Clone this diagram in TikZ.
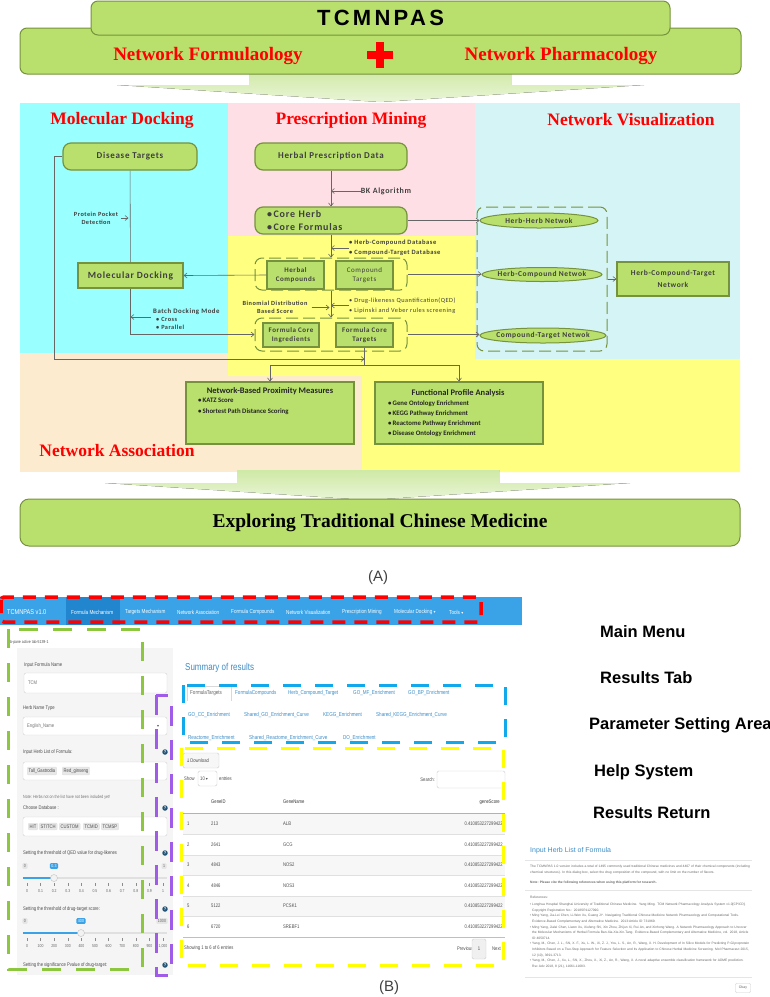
\documentclass[tikz,border=0pt]{standalone}
\usepackage{fontspec}
\setmainfont{Liberation Serif}
\newfontfamily\flowfont[LetterSpace=8]{Carlito}
\newfontfamily\plainflow{Carlito}
\newfontfamily\headfont[LetterSpace=15]{Liberation Sans}
\newfontfamily\arialfont{Liberation Sans}
\newfontfamily\shotfont[FakeStretch=0.8]{Liberation Sans}
\newfontfamily\symfont{DejaVu Sans}
\usetikzlibrary{arrows.meta,shapes.geometric}

\definecolor{boxfill}{HTML}{B9E06C}
\definecolor{boxline}{HTML}{76923C}
\definecolor{flowtxt}{HTML}{3F3F3F}
\definecolor{arrowgreen}{HTML}{CFE9A6}
\definecolor{dockcyan}{HTML}{99FFFF}
\definecolor{minepink}{HTML}{FFDFE6}
\definecolor{viscyan}{HTML}{D5F4F5}
\definecolor{assocyellow}{HTML}{FFFF80}
\definecolor{assocpeach}{HTML}{FDEBCF}
\definecolor{navblue}{HTML}{3AA2E6}
\definecolor{navactive}{HTML}{2286CF}
\definecolor{linkblue}{HTML}{3C8DC8}
\definecolor{menured}{HTML}{FF0000}
\definecolor{paramgreen}{HTML}{8DC63F}
\definecolor{helppurple}{HTML}{A05CE8}
\definecolor{tabblue}{HTML}{12A8EC}
\definecolor{resyellow}{HTML}{FFFF00}

\tikzset{
  region/.style={text=red, inner sep=0, font=\bfseries\fontsize{17.5}{20}\selectfont},
  banner/.style={draw=boxline, fill=boxfill, line width=1pt, rounded corners=7pt, inner sep=0},
  flowbox/.style={draw=boxline, fill=boxfill, line width=1.2pt, inner sep=0, align=center, text=flowtxt},
  roundbox/.style={flowbox, rounded corners=8pt},
  boxtxt/.style={font=\flowfont\bfseries\fontsize{9}{11}\selectfont},
  smalltxt/.style={font=\flowfont\bfseries\fontsize{7}{9}\selectfont},
  netnode/.style={ellipse, draw=boxline, fill=boxfill, line width=1pt, inner sep=0},
  nettxt/.style={text=flowtxt, inner sep=0, font=\flowfont\bfseries\fontsize{7.5}{9}\selectfont},
  grp/.style={draw=boxline, line width=1pt, dash pattern=on 12pt off 5pt, rounded corners=7pt, inner sep=0},
  plain/.style={draw=black!60, line width=0.6pt},
  link/.style={plain, -{Straight Barb[length=3pt,width=5pt]}},
  note/.style={text=flowtxt, inner sep=0, font=\flowfont\bfseries\fontsize{6.3}{8}\selectfont},
  bigarrow/.style={top color=arrowgreen, bottom color=arrowgreen!45},
  shot/.style={inner sep=0, anchor=west, text=black!70, font=\shotfont\fontsize{5.2}{6}\selectfont},
  navtxt/.style={shot, text=white, font=\shotfont\fontsize{5.8}{7}\selectfont},
  tabtxt/.style={shot, text=linkblue, font=\shotfont\fontsize{5.7}{7}\selectfont},
  inbox/.style={draw=black!18, fill=white, rounded corners=2pt, inner sep=0},
  tagbox/.style={shot, fill=black!9, draw=black!12, inner xsep=1.5pt, inner ysep=1.5pt, rounded corners=1pt},
  helpdot/.style={circle, fill=linkblue!60!black, text=white, inner sep=0, minimum size=5.5pt, font=\arialfont\bfseries\fontsize{4}{4}\selectfont},
  badge/.style={fill=navblue, text=white, inner xsep=1.5pt, inner ysep=1.2pt, rounded corners=1pt, font=\shotfont\fontsize{4.5}{5}\selectfont},
  limbox/.style={fill=black!10, text=black!60, inner xsep=1.5pt, inner ysep=1.2pt, rounded corners=1pt, font=\shotfont\fontsize{4.5}{5}\selectfont},
  ticktxt/.style={inner sep=0, text=black!60, font=\shotfont\fontsize{4.3}{5}\selectfont},
  callout/.style={anchor=west, inner sep=0, font=\arialfont\bfseries\fontsize{16.5}{18}\selectfont},
  dlgtxt/.style={inner sep=0, anchor=north west, text=black!60, align=left, font=\arialfont\fontsize{3.3}{5.6}\selectfont},
  reflist/.style={inner sep=0, anchor=north west, text=black!60, font=\arialfont\fontsize{3.3}{5.6}\selectfont},
  menubox/.style={draw=menured, line width=3.5pt, dash pattern=on 13pt off 9pt, rounded corners=3pt},
  parambox/.style={draw=paramgreen, line width=3pt, dash pattern=on 19pt off 15pt},
  helpbox/.style={draw=helppurple, line width=3pt, dash pattern=on 20pt off 14pt},
  tabbox/.style={draw=tabblue, line width=3pt, dash pattern=on 18pt off 14pt},
  resbox/.style={draw=resyellow, line width=3pt, dash pattern=on 18pt off 14pt}
}

\begin{document}
\begin{tikzpicture}[x=1pt,y=-1pt]
\useasboundingbox (0,0) rectangle (770,997);

% ---------------- (A) ----------------
% coloured areas
\fill[assocpeach] (20,353) rectangle (362,472);
\fill[dockcyan] (20,103) rectangle (228,353);
\fill[minepink] (228,103) rectangle (475,236);
\fill[viscyan] (475,103) rectangle (740,359);
\fill[assocyellow] (228,236) -- (475,236) -- (475,359) -- (740,359) -- (740,472)
  -- (362,472) -- (362,376) -- (228,376) -- cycle;

% banner
\fill[bigarrow] (249,70) -- (511,70) -- (511,85) -- (644,85) -- (380,102) -- (117,85) -- (249,85) -- cycle;
\node[banner, minimum width=721pt, minimum height=46pt] (base) at (380.5,51) {};
\node[banner, minimum width=579pt, minimum height=34pt, font=\headfont\bfseries\fontsize{22}{24}\selectfont] (tcm) at (380.5,18) {TCMNPAS};
\node[region, font=\bfseries\fontsize{19}{21}\selectfont] (nf) at (208,56) {Network Formulaology};
\node[region, font=\bfseries\fontsize{19}{21}\selectfont] (np) at (561,56) {Network Pharmacology};
\fill[red] (376,42) rectangle (384,68);
\fill[red] (367,51) rectangle (393,59);

% area titles
\node[region] (mdT) at (122,120) {Molecular Docking};
\node[region] (pmT) at (351,120) {Prescription Mining};
\node[region] (nvT) at (631,120) {Network Visualization};
\node[region] (naT) at (117,451) {Network Association};

% boxes
\node[roundbox, boxtxt, minimum width=134pt, minimum height=27pt] (disease) at (130,156.5) {Disease Targets};
\node[roundbox, boxtxt, minimum width=152pt, minimum height=27pt] (herbdata) at (331,156.5) {Herbal Prescription Data};
\node[roundbox, minimum width=152pt, minimum height=27pt, text width=128pt, align=left,
  font=\flowfont\bfseries\fontsize{10}{13}\selectfont] (core) at (331,220.5) {\textbullet\,Core Herb\\\textbullet\,Core Formulas};
\node[flowbox, minimum width=105pt, minimum height=25pt, font=\flowfont\bfseries\fontsize{9.5}{11}\selectfont] (mdock) at (130.5,275.5) {Molecular Docking};

\node[grp, minimum width=152pt, minimum height=32pt] (g1) at (331,274) {};
\node[flowbox, smalltxt, minimum width=57pt, minimum height=28pt] (hcomp) at (295.5,275) {Herbal\\Compounds};
\node[flowbox, minimum width=57pt, minimum height=28pt, font=\flowfont\fontsize{7}{9}\selectfont] (ctarg) at (364.5,275) {Compound\\Targets};
\node[grp, minimum width=152pt, minimum height=33pt] (g2) at (331,334.5) {};
\node[flowbox, smalltxt, minimum width=56pt, minimum height=24pt] (fci) at (291,335) {Formula Core\\Ingredients};
\node[flowbox, smalltxt, minimum width=57pt, minimum height=24pt] (fct) at (364.5,335) {Formula Core\\Targets};

\node[grp, minimum width=130pt, minimum height=144pt] (g3) at (542,279) {};
\node[netnode, minimum width=118pt, minimum height=15pt, label={[nettxt]center:Herb-Herb Netwok}] (hh) at (539,220.5) {};
\node[netnode, minimum width=120pt, minimum height=14pt, label={[nettxt]center:Herb-Compound Netwok}] (hc) at (542,274.5) {};
\node[netnode, minimum width=126pt, minimum height=15pt, label={[nettxt]center:Compound-Target Netwok}] (ct) at (543,335.5) {};
\node[flowbox, minimum width=112pt, minimum height=34pt, font=\flowfont\bfseries\fontsize{7.5}{12}\selectfont] (hct) at (673,279) {Herb-Compound-Target\\Network};

\node[flowbox, minimum width=168pt, minimum height=62pt] (prox) at (270,413) {};
\node[note, text=black!85, font=\plainflow\bfseries\fontsize{8.5}{10}\selectfont] (proxT) at (270,391) {Network-Based Proximity Measures};
\node[note, anchor=west, align=left, text=black!85, font=\plainflow\bfseries\fontsize{6.8}{10.5}\selectfont] (proxL) at (198,406.5) {\textbullet\,KATZ Score\\\textbullet\,Shortest Path Distance Scoring};
\node[flowbox, minimum width=168pt, minimum height=62pt] (func) at (459,413) {};
\node[note, text=black!85, font=\plainflow\bfseries\fontsize{8.5}{10}\selectfont] (funcT) at (458,393) {Functional Profile Analysis};
\node[note, anchor=west, align=left, text=black!85, font=\plainflow\bfseries\fontsize{6.8}{10}\selectfont] (funcL) at (388,419) {\textbullet\,Gene Ontology Enrichment\\\textbullet\,KEGG Pathway Enrichment\\\textbullet\,Reactome Pathway Enrichment\\\textbullet\,Disease Ontology Enrichment};

% side notes
\node[note, font=\flowfont\bfseries\fontsize{8}{9}\selectfont] (bk) at (386,191) {BK Algorithm};
\node[note, anchor=west, align=left, font=\flowfont\bfseries\fontsize{6.5}{10}\selectfont] (dbs) at (349,248) {\textbullet\ Herb-Compound Database\\\textbullet\ Compound-Target Database};
\node[note, anchor=west, align=left, font=\flowfont\fontsize{6.3}{10.5}\selectfont] (qed) at (349,305.5) {\textbullet\ Drug-likeness Quantification(QED)\\\textbullet\ Lipinski and Veber rules screening};
\node[note, align=center] (binom) at (275,307.5) {Binomial Distribution\\Based Score};
\node[note, align=center] (pocket) at (96,218) {Protein Pocket\\Detection};
\node[note, anchor=west, font=\flowfont\bfseries\fontsize{6.8}{8}\selectfont] (batch) at (153,312) {Batch Docking Mode};
\node[note, anchor=west, align=left] (modes) at (156,323.5) {\textbullet\ Cross\\\textbullet\ Parallel};
\coordinate (batchtail) at (151,317);
\coordinate (split) at (364.5,365);
\coordinate (meet) at (364.5,359);

% connectors
\draw[link] (herbdata) -- (core);
\draw[link] (bk.west) -- (bk.west -| herbdata.south);
\draw[link] (core) -- (g1);
\draw[link] (dbs.west) -- (dbs.west -| core.south);
\draw[link] (g1) -- (g2);
\draw[link] (qed.west) -- (qed.west -| g1.south);
\draw[link, shorten <=4pt, shorten >=1.5pt] (binom.east) -- (binom.east -| g1.south);
\draw[plain] (disease) -- (mdock);
\draw[link, shorten <=3pt, shorten >=1.5pt] (pocket.east) -- (pocket.east -| disease.south);
\draw[link] (batchtail) -- (batchtail -| mdock.south);
\draw[link] (mdock.south) |- (g2.west);
\draw[link] (hcomp.west) -- (mdock.east);
\draw[link] (core.east) -- (core.east -| hh.west);
\draw[link] (g1.east) -- (g1.east -| hc.west);
\draw[link] (g2.east) -- (g2.east -| ct.west);
\draw[link] (g3.east) -- (hct.west);
\draw[plain] (fct.south) -- (split);
\draw[link] (disease.west) -- ++(-8,0) |- (meet);
\draw[link] (split) -| (prox.north);
\draw[link] (split) -| (func.north);

% result
\fill[bigarrow] (237,470) -- (499,470) -- (499,483) -- (630,483) -- (368,500) -- (105,483) -- (237,483) -- cycle;
\node[banner, rounded corners=9pt, minimum width=720pt, minimum height=47pt, font=\bfseries\fontsize{19.5}{22}\selectfont] (explore) at (380,522.5) {Exploring Traditional Chinese Medicine};
\node[inner sep=0, text=black!75, font=\arialfont\fontsize{15}{17}\selectfont] (labA) at (378,578) {(A)};

% ---------------- (B) ----------------
% menu bar
\fill[navblue] (0,597) rectangle (522,625);
\fill[navactive] (66,597) rectangle (120,625);
\node[navtxt, font=\shotfont\fontsize{7}{8}\selectfont] (brand) at (7,612) {TCMNPAS v1.0};
\node[navtxt] (m1) at (71,612) {Formula Mechanism};
\node[navtxt] (m2) at (125,612) {Targets Mechanism};
\node[navtxt] (m3) at (177,612) {Network Association};
\node[navtxt] (m4) at (231,612) {Formula Compounds};
\node[navtxt] (m5) at (286,612) {Network Visualization};
\node[navtxt] (m6) at (342,612) {Prescription Mining};
\node[navtxt] (m7) at (394,612) {Molecular Docking {\symfont\fontsize{4}{4}\selectfont ▾}};
\node[navtxt] (m8) at (449,612) {Tools {\symfont\fontsize{4}{4}\selectfont ▾}};

% parameter side bar
\fill[black!4] (17,648) rectangle (173,975);
\node[shot, font=\shotfont\fontsize{4.3}{5}\selectfont] (pane) at (10,642) {b-pane active tab-5139-1};
\node[shot] (lbl1) at (24,665) {Input Formula Name};
\node[inbox, minimum width=143pt, minimum height=20pt] (in1) at (95.5,683) {};
\node[shot, text=black!55] (v1) at (28,683) {TCM};
\node[shot] (lbl2) at (23,708) {Herb Name Type};
\node[inbox, minimum width=144pt, minimum height=18pt] (in2) at (95,726) {};
\node[shot, text=black!55] (v2) at (27,726) {English\_Name};
\node[shot, font=\symfont\fontsize{4}{4}\selectfont] (caret) at (157,726) {▾};
\node[shot] (lbl3) at (23,752) {Input Herb List of Formula:};
\node[helpdot] (h1) at (165,752) {?};
\node[inbox, minimum width=144pt, minimum height=18pt] (in3) at (95,771) {};
\node[tagbox] (t1) at (27,771) {Tall\_Gastrodia};
\node[tagbox] (t2) at (62,771) {Red\_ginseng};
\node[shot, font=\shotfont\fontsize{4.5}{5}\selectfont, text=black!55] (hint) at (23,797) {Note: Herbs not on the list have not been included yet!};
\node[shot] (lbl4) at (23,808) {Choose Database :};
\node[helpdot] (h2) at (165,808) {?};
\node[inbox, minimum width=144pt, minimum height=19pt] (in4) at (95,826.5) {};
\node[tagbox] (d1) at (28,826.5) {HIT};
\node[tagbox] (d2) at (39,826.5) {STITCH};
\node[tagbox] (d3) at (59,826.5) {CUSTOM};
\node[tagbox] (d4) at (83,826.5) {TCMID};
\node[tagbox] (d5) at (101,826.5) {TCMSP};

\node[shot] (lbl5) at (23,853) {Setting the threshold of QED value for drug-likenes};
\node[helpdot] (h3) at (165,853) {?};
\draw[black!12, line width=2.5pt] (23,878) -- (167,878);
\draw[navblue, line width=2.5pt] (23,878) -- (54,878);
\node[limbox] (q0) at (25,866) {0};
\node[limbox] (q1) at (164,866) {1};
\node[badge] (qv) at (54,866) {0.3};
\node[circle, draw=black!25, fill=black!5, minimum size=7pt, inner sep=0] (qk) at (54,878) {};
\foreach \v [count=\i from 0] in {0,0.1,0.2,0.3,0.4,0.5,0.6,0.7,0.8,0.9,1} {
  \draw[black!45] (27+13.6*\i,883) -- (27+13.6*\i,886);
  \node[ticktxt] at (27+13.6*\i,891) {\v};
}

\node[shot] (lbl6) at (23,909) {Setting the threshold of drug-target score:};
\node[helpdot] (h4) at (165,909) {?};
\draw[black!12, line width=2.5pt] (23,933) -- (167,933);
\draw[navblue, line width=2.5pt] (23,933) -- (81,933);
\node[limbox] (s0) at (25,921) {0};
\node[limbox] (s1) at (162,921) {1000};
\node[badge] (sv) at (81,921) {400};
\node[circle, draw=black!25, fill=black!5, minimum size=7pt, inner sep=0] (sk) at (81,933) {};
\foreach \v [count=\i from 0] in {0,100,200,300,400,500,600,700,800,900,{1,000}} {
  \draw[black!45] (27+13.6*\i,938) -- (27+13.6*\i,941);
  \node[ticktxt] at (27+13.6*\i,946) {\v};
}
\node[shot] (lbl7) at (23,965) {Setting the significance Pvalue of drug-target:};
\node[helpdot] (h5) at (165,965) {?};

% results area
\node[shot, text=linkblue, font=\shotfont\fontsize{10}{12}\selectfont] (summary) at (185,668) {Summary of results};
\fill[white] (187,686) rectangle (231,701);
\draw[black!15] (187,701) -- (187,686) -- (231,686) -- (231,701);
\node[shot, text=black!60, font=\shotfont\fontsize{5.7}{7}\selectfont] (tb1) at (190,693) {FormulaTargets};
\node[tabtxt] (tb2) at (235,693) {FormulaCompounds};
\node[tabtxt] (tb3) at (288,693) {Herb\_Compound\_Target};
\node[tabtxt] (tb4) at (353,693) {GO\_MF\_Enrichment};
\node[tabtxt] (tb5) at (408,693) {GO\_BP\_Enrichment};
\node[tabtxt] (tb6) at (188,715) {GO\_CC\_Enrichment};
\node[tabtxt] (tb7) at (244,715) {Shared\_GO\_Enrichment\_Curve};
\node[tabtxt] (tb8) at (323,715) {KEGG\_Enrichment};
\node[tabtxt] (tb9) at (376,715) {Shared\_KEGG\_Enrichment\_Curve};
\node[tabtxt] (tb10) at (188,738) {Reactome\_Enrichment};
\node[tabtxt] (tb11) at (249,738) {Shared\_Reactome\_Enrichment\_Curve};
\node[tabtxt] (tb12) at (343,738) {DO\_Enrichment};

% table
\node[draw=black!20, fill=black!3, rounded corners=1.5pt, minimum width=36pt, minimum height=15pt, inner sep=0] (dl) at (201,760.5) {};
\node[shot] (dlt) at (186,760.5) {{\symfont\fontsize{5}{6}\selectfont ↓}Download};
\node[shot] (show) at (184,778.5) {Show};
\node[draw=black!20, fill=white, rounded corners=1.5pt, minimum width=19pt, minimum height=15pt, inner sep=0] (len) at (207.5,778.5) {};
\node[shot] (lenv) at (200,778.5) {10 {\symfont\fontsize{4}{4}\selectfont ▾}};
\node[shot] (entries) at (219,778.5) {entries};
\node[shot, anchor=east] (search) at (435,779.5) {Search:};
\node[draw=black!20, fill=white, rounded corners=1.5pt, minimum width=68pt, minimum height=17pt, inner sep=0] (sbox) at (471,779.5) {};
\node[shot, text=black!80] (hd1) at (211,802) {GeneID};
\node[shot, text=black!80] (hd2) at (283,802) {GeneName};
\node[shot, text=black!80, anchor=east] (hd3) at (500,802) {geneScore};
\draw[black!30, line width=0.8pt] (183,813) -- (505,813);
\fill[black!3] (183,813.5) rectangle (505,834.5);
\fill[black!3] (183,855) rectangle (505,875.5);
\fill[black!3] (183,896) rectangle (505,916.5);
\draw[black!12] (183,834.5) -- (505,834.5);
\draw[black!12] (183,855) -- (505,855);
\draw[black!12] (183,875.5) -- (505,875.5);
\draw[black!12] (183,896) -- (505,896);
\draw[black!12] (183,916.5) -- (505,916.5);
\draw[black!25] (183,937) -- (505,937);
\node[shot] (r1a) at (187,824) {1};
\node[shot] (r1b) at (211,824) {213};
\node[shot] (r1c) at (283,824) {ALB};
\node[shot, anchor=east] (r1d) at (503,824) {0.410853227299422};
\node[shot] (r2a) at (187,845) {2};
\node[shot] (r2b) at (211,845) {2641};
\node[shot] (r2c) at (283,845) {GCG};
\node[shot, anchor=east] (r2d) at (503,845) {0.410853227299422};
\node[shot] (r3a) at (187,865) {3};
\node[shot] (r3b) at (211,865) {4843};
\node[shot] (r3c) at (283,865) {NOS2};
\node[shot, anchor=east] (r3d) at (503,865) {0.410853227299422};
\node[shot] (r4a) at (187,886) {4};
\node[shot] (r4b) at (211,886) {4846};
\node[shot] (r4c) at (283,886) {NOS3};
\node[shot, anchor=east] (r4d) at (503,886) {0.410853227299422};
\node[shot] (r5a) at (187,906) {5};
\node[shot] (r5b) at (211,906) {5122};
\node[shot] (r5c) at (283,906) {PCSK1};
\node[shot, anchor=east] (r5d) at (503,906) {0.410853227299422};
\node[shot] (r6a) at (187,927) {6};
\node[shot] (r6b) at (211,927) {6720};
\node[shot] (r6c) at (283,927) {SREBF1};
\node[shot, anchor=east] (r6d) at (503,927) {0.410853227299422};
\node[shot] (info) at (184,948) {Showing 1 to 6 of 6 entries};
\node[shot] (prev) at (457,949) {Previous};
\node[draw=black!20, fill=black!6, rounded corners=1.5pt, minimum width=14pt, minimum height=20pt, inner sep=0, font=\shotfont\fontsize{5.2}{6}\selectfont, text=black!70] (pg) at (479,949) {1};
\node[shot] (next) at (492,949) {Next};

% dashed frames
\draw[menubox] (1,597) rectangle (481,622);
\draw[parambox] (8,629) rectangle (142,969);
\draw[helpbox] (156,695) rectangle (171,975);
\draw[tabbox] (183,685) rectangle (505,742);
\draw[resbox] (181,748) rectangle (503,965);

% call-outs
\node[callout] (c1) at (600,632) {Main Menu};
\node[callout] (c2) at (600,678) {Results Tab};
\node[callout] (c3) at (589,725) {Parameter Setting Area};
\node[callout] (c4) at (594,772) {Help System};
\node[callout] (c5) at (593,813) {Results Return};

% help dialog
\node[inner sep=0, anchor=west, text=linkblue, font=\arialfont\fontsize{7}{8}\selectfont] (dlgT) at (530,851) {Input Herb List of Formula};
\draw[black!10] (525,860) -- (752,860);
\node[dlgtxt, text width=220pt] (dlgP) at (530,865) {The TCMNPAS 1.0 version includes a total of 1495 commonly used traditional Chinese medicines and 4407 of their chemical components (including chemical structures). In this dialog box, select the drug composition of the compound, with no limit on the number of flavors.};
\node[dlgtxt, anchor=west, font=\arialfont\bfseries\fontsize{3.3}{5.6}\selectfont] (dlgN) at (530,883) {Note: Please cite the following references when using this platform for research.};
\draw[black!10] (525,890) -- (752,890);
\node[dlgtxt, anchor=west] (dlgR) at (530,897) {References:};
\node[reflist, text width=218pt] (refs) at (532,903) {\leftskip=5pt\parindent=0pt\raggedright
\leavevmode\llap{\textbullet\ }Longhua Hospital Shanghai University of Traditional Chinese Medicine. Yang Ming. TCM Network Pharmacology Analysis System v1.0[CP/CD]. Copyright Registration No.: 2018SR1127090.\par
\leavevmode\llap{\textbullet\ }Ming Yang, Jia-Lei Chen, Li-Wen Xu, Guang Ji*. Navigating Traditional Chinese Medicine Network Pharmacology and Computational Tools. Evidence-Based Complementary and Alternative Medicine. 2013:Article ID 731969.\par
\leavevmode\llap{\textbullet\ }Ming Yang, Jialei Chen, Liwen Xu, Xiufeng Shi, Xin Zhou, Zhijun Xi, Rui An, and Xinhong Wang. A Network Pharmacology Approach to Uncover the Molecular Mechanisms of Herbal Formula Ban-Xia-Xie-Xin-Tang. Evidence-Based Complementary and Alternative Medicine, vol. 2018, Article ID 4050714.\par
\leavevmode\llap{\textbullet\ }Yang, M., Chen, J. L., Shi, X. F., Xu, L. W., Xi, Z. J., You, L. S., An, R., Wang, X. H. Development of In Silico Models for Predicting P-Glycoprotein Inhibitors Based on a Two-Step Approach for Feature Selection and Its Application to Chinese Herbal Medicine Screening. Mol Pharmaceut 2015, 12 (10), 3691-3713.\par
\leavevmode\llap{\textbullet\ }Yang, M., Chen, J., Xu, L., Shi, X., Zhou, X., Xi, Z., An, R., Wang, X. A novel adaptive ensemble classification framework for ADME prediction. Rsc Adv 2018, 8 (21), 11661-11683.\par};
\draw[black!10] (525,977) -- (752,977);
\node[draw=black!20, rounded corners=1pt, minimum width=15pt, minimum height=9pt, inner sep=0, text=black!60, font=\arialfont\fontsize{3.5}{4}\selectfont] (okay) at (743,988) {Okay};

\node[inner sep=0, text=black!75, font=\arialfont\fontsize{15}{17}\selectfont] (labB) at (389,988) {(B)};
\end{tikzpicture}
\end{document}
